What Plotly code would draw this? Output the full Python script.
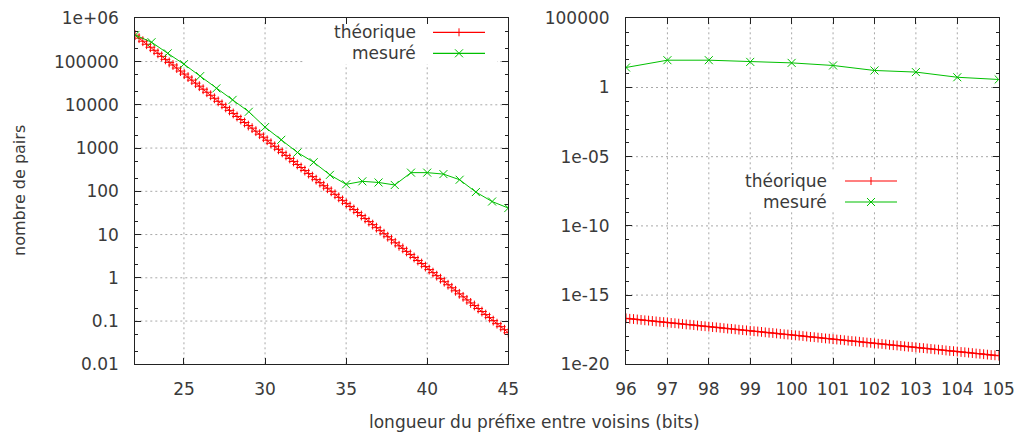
import numpy as np
import plotly.graph_objects as go

W, H = 1018, 435

# ---------------- data ----------------
bits_left = list(range(22, 46))
mesure_left = [4.1e5, 2.8e5, 1.55e5, 8.7e4, 4.6e4, 2.4e4, 1.3e4, 6900, 3050, 1550,
               790, 470, 240, 145, 170, 160, 140, 270, 270, 250, 185, 96, 58, 41]

bits_right = list(range(96, 106))
mesure_right = [28, 94, 94, 71, 60, 39, 17, 13, 5.5, 3.8]

# theoretical curve, 100 samples per panel (gnuplot default sampling), log10 values
theo_left_log10 = [
    5.61, 5.54, 5.47, 5.40, 5.33, 5.26, 5.19, 5.12, 5.05, 4.98,
    4.92, 4.85, 4.78, 4.71, 4.64, 4.57, 4.50, 4.43, 4.36, 4.29,
    4.22, 4.15, 4.08, 4.01, 3.94, 3.87, 3.80, 3.73, 3.66, 3.59,
    3.52, 3.46, 3.39, 3.32, 3.25, 3.18, 3.11, 3.04, 2.97, 2.90,
    2.83, 2.76, 2.69, 2.62, 2.55, 2.48, 2.41, 2.34, 2.27, 2.20,
    2.13, 2.07, 2.00, 1.93, 1.86, 1.79, 1.72, 1.65, 1.58, 1.51,
    1.44, 1.37, 1.30, 1.23, 1.16, 1.09, 1.02, 0.95, 0.88, 0.81,
    0.74, 0.68, 0.61, 0.54, 0.47, 0.40, 0.33, 0.26, 0.19, 0.12,
    0.05, -0.02, -0.09, -0.16, -0.23, -0.30, -0.37, -0.44, -0.51, -0.58,
    -0.64, -0.71, -0.78, -0.85, -0.92, -0.99, -1.06, -1.13, -1.20, -1.27]
theo_right_log10 = [
    -16.68, -16.71, -16.73, -16.76, -16.79, -16.82, -16.84, -16.87, -16.90, -16.93,
    -16.95, -16.98, -17.01, -17.03, -17.06, -17.09, -17.12, -17.14, -17.17, -17.20,
    -17.23, -17.25, -17.28, -17.31, -17.33, -17.36, -17.39, -17.42, -17.44, -17.47,
    -17.50, -17.53, -17.55, -17.58, -17.61, -17.63, -17.66, -17.69, -17.72, -17.74,
    -17.77, -17.80, -17.83, -17.85, -17.88, -17.91, -17.93, -17.96, -17.99, -18.02,
    -18.04, -18.07, -18.10, -18.13, -18.15, -18.18, -18.21, -18.23, -18.26, -18.29,
    -18.32, -18.34, -18.37, -18.40, -18.43, -18.45, -18.48, -18.51, -18.53, -18.56,
    -18.59, -18.62, -18.64, -18.67, -18.70, -18.73, -18.75, -18.78, -18.81, -18.83,
    -18.86, -18.89, -18.92, -18.94, -18.97, -19.00, -19.03, -19.05, -19.08, -19.11,
    -19.13, -19.16, -19.19, -19.22, -19.24, -19.27, -19.30, -19.33, -19.35, -19.38]
theo_left_x = np.linspace(22, 45, len(theo_left_log10))
theo_right_x = np.linspace(96, 105, len(theo_right_log10))

left_xticks = [25, 30, 35, 40, 45]
right_xticks = list(range(96, 106))
left_yticks = [1e-2, 1e-1, 1, 10, 100, 1000, 1e4, 1e5, 1e6]
left_yticktext = ["0.01", "0.1", "1", "10", "100", "1000", "10000", "100000", "1e+06"]
right_yticks = [1e-20, 1e-15, 1e-10, 1e-5, 1, 1e5]
right_yticktext = ["1e-20", "1e-15", "1e-10", "1e-05", "1", "100000"]

labels = ["théorique", "mesuré"]
x_title = "longueur du préfixe entre voisins (bits)"
y_title = "nombre de pairs"

# ---------------- style ----------------
RED = "#ff0000"
GREEN = "#00c000"
TXT = "#3a3a3a"
AX = "#222222"
GRID = "#a8a8a8"
FONT = "DejaVu Sans"
FS = 17

def px(x):
    return x / W

def py(y):
    return 1 - y / H

fig = go.Figure()

fig.add_trace(go.Scatter(x=theo_left_x, y=[10 ** v for v in theo_left_log10], mode="lines+markers",
                         line=dict(color=RED, width=1),
                         marker=dict(symbol="cross-thin", size=7, line=dict(color=RED, width=1)),
                         xaxis="x", yaxis="y", showlegend=False))
fig.add_trace(go.Scatter(x=bits_left, y=mesure_left, mode="lines+markers",
                         line=dict(color=GREEN, width=1),
                         marker=dict(symbol="x-thin", size=8, line=dict(color=GREEN, width=1)),
                         xaxis="x", yaxis="y", showlegend=False))
fig.add_trace(go.Scatter(x=theo_right_x, y=[10 ** v for v in theo_right_log10], mode="lines+markers",
                         line=dict(color=RED, width=1),
                         marker=dict(symbol="cross-thin", size=7, line=dict(color=RED, width=1)),
                         xaxis="x2", yaxis="y2", showlegend=False))
fig.add_trace(go.Scatter(x=bits_right, y=mesure_right, mode="lines+markers",
                         line=dict(color=GREEN, width=1),
                         marker=dict(symbol="x-thin", size=8, line=dict(color=GREEN, width=1)),
                         xaxis="x2", yaxis="y2", showlegend=False))

common_x = dict(showline=True, mirror="ticks", linecolor=AX, linewidth=1,
                ticks="inside", ticklen=6, tickcolor=AX, tickwidth=1,
                showgrid=False, zeroline=False, automargin=False, ticklabelstandoff=9,
                tickfont=dict(family=FONT, size=FS, color=TXT))
common_y = dict(type="log", showline=True, mirror="ticks", linecolor=AX, linewidth=1,
                ticks="inside", ticklen=6, tickcolor=AX, tickwidth=1,
                showgrid=False, zeroline=False, automargin=False, ticklabelstandoff=12,
                tickfont=dict(family=FONT, size=FS, color=TXT))

ydom = [py(364.3), py(18.3)]
fig.update_layout(
    width=W, height=H, autosize=False,
    margin=dict(l=0, r=0, t=0, b=0, autoexpand=False),
    paper_bgcolor="white", plot_bgcolor="white",
    font=dict(family=FONT, size=FS, color=TXT),
    showlegend=False,
    xaxis=dict(domain=[px(135.3), px(508.3)], range=[22, 45], tickvals=left_xticks,
               anchor="y", **common_x),
    yaxis=dict(domain=ydom, range=[-2, 6], tickvals=left_yticks, ticktext=left_yticktext,
               anchor="x",
               minor=dict(ticks="inside", ticklen=3, tickcolor=AX, dtick="D2", showgrid=False),
               **common_y),
    xaxis2=dict(domain=[px(626), px(998.7)], range=[96, 105], tickvals=right_xticks,
                anchor="y2", **common_x),
    yaxis2=dict(domain=ydom, range=[-20, 5], tickvals=right_yticks, ticktext=right_yticktext,
                anchor="x2",
                minor=dict(ticks="inside", ticklen=3, tickcolor=AX, dtick=1, showgrid=False),
                **common_y),
)

shapes = []
grid_line = dict(color=GRID, width=1, dash="2px,3px")

def grid(xa, ya, xr, yr, xt, yt):
    for v in xt:
        if xr[0] < v < xr[1]:
            f = (v - xr[0]) / (xr[1] - xr[0])
            shapes.append(dict(type="line", xref=xa + " domain", yref=ya + " domain",
                               x0=f, x1=f, y0=0, y1=1, line=grid_line, layer="below"))
    for v in yt:
        lv = np.log10(v)
        if yr[0] < lv < yr[1]:
            f = (lv - yr[0]) / (yr[1] - yr[0])
            shapes.append(dict(type="line", xref=xa + " domain", yref=ya + " domain",
                               x0=0, x1=1, y0=f, y1=f, line=grid_line, layer="below"))

grid("x", "y", [22, 45], [-2, 6], left_xticks, left_yticks)
grid("x2", "y2", [96, 105], [-20, 5], right_xticks, right_yticks)

# opaque key boxes (hide grid behind key)
shapes.append(dict(type="rect", xref="x domain", yref="y domain", x0=0.4496, x1=0.9697, y0=0.868, y1=1.0,
                   line=dict(width=0), fillcolor="white", layer="below"))
shapes.append(dict(type="rect", xref="x2 domain", yref="y2 domain", x0=0.29, x1=0.745, y0=0.44, y1=0.5616,
                   line=dict(width=0), fillcolor="white", layer="below"))

annotations = []

def key(text_right, line_x0, line_x1, y_red, y_green):
    for lab, yy, col, sym in [(labels[0], y_red, RED, "+"), (labels[1], y_green, GREEN, "x")]:
        annotations.append(dict(text=lab, x=px(text_right), y=py(yy), xref="paper", yref="paper",
                                xanchor="right", yanchor="middle", showarrow=False,
                                font=dict(family=FONT, size=FS, color=TXT)))
        shapes.append(dict(type="line", xref="paper", yref="paper", x0=px(line_x0), x1=px(line_x1),
                           y0=py(yy), y1=py(yy), line=dict(color=col, width=1.2), layer="above"))
        cx = (line_x0 + line_x1) / 2
        if sym == "+":
            shapes.append(dict(type="line", xref="paper", yref="paper", x0=px(cx), x1=px(cx),
                               y0=py(yy - 4), y1=py(yy + 4), line=dict(color=col, width=1), layer="above"))
        else:
            shapes.append(dict(type="line", xref="paper", yref="paper", x0=px(cx - 4), x1=px(cx + 4),
                               y0=py(yy - 4), y1=py(yy + 4), line=dict(color=col, width=1), layer="above"))
            shapes.append(dict(type="line", xref="paper", yref="paper", x0=px(cx - 4), x1=px(cx + 4),
                               y0=py(yy + 4), y1=py(yy - 4), line=dict(color=col, width=1), layer="above"))

key(418, 433, 485, 32.3, 53.3)
key(829, 845, 897, 181, 202)

annotations.append(dict(text=x_title, x=px(534), y=py(422), xref="paper", yref="paper",
                        xanchor="center", yanchor="middle", showarrow=False,
                        font=dict(family=FONT, size=FS, color=TXT)))
annotations.append(dict(text=y_title, x=px(19), y=py(191), xref="paper", yref="paper",
                        xanchor="center", yanchor="middle", showarrow=False, textangle=-90,
                        font=dict(family=FONT, size=16, color=TXT)))

fig.update_layout(shapes=shapes, annotations=annotations)
fig.write_html("out.html", config={"displayModeBar": False},
               post_script="document.body.style.margin='0';document.body.style.padding='0';")
